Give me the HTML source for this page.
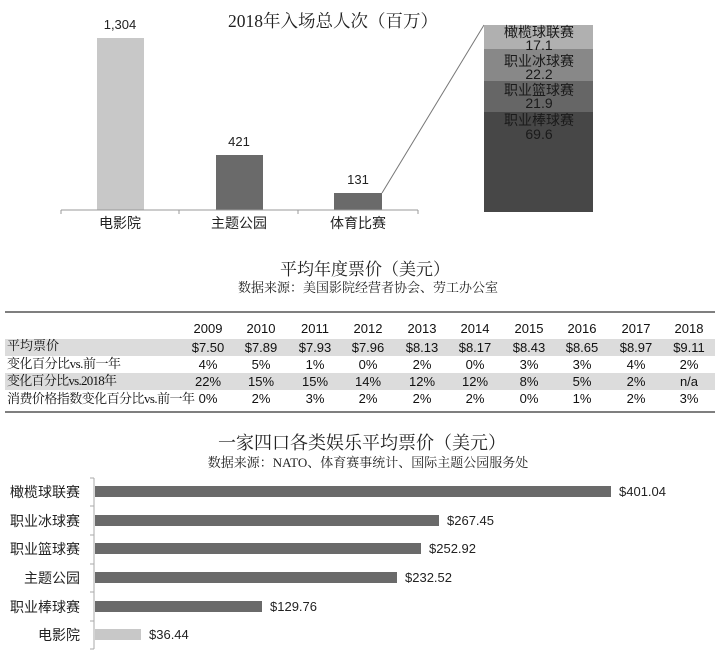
<!DOCTYPE html>
<html><head><meta charset="utf-8"><style>
body{margin:0;background:#fff;}
svg{display:block;font-family:"Liberation Sans","Noto Sans CJK SC",sans-serif;}
.s{font-family:"Liberation Serif","Noto Serif CJK SC",serif;}
</style></head><body>
<svg width="725" height="663" viewBox="0 0 725 663">
<rect width="725" height="663" fill="#fff"/>
<!-- Top chart -->
<text x="333" y="27" class="s" font-size="17.5" text-anchor="middle" fill="#222">2018年入场总人次（百万）</text>
<rect x="97" y="38" width="47" height="172" fill="#c8c8c8"/>
<rect x="216" y="155" width="47" height="55" fill="#6a6a6a"/>
<rect x="334" y="193" width="48" height="17" fill="#6a6a6a"/>
<line x1="61" y1="210" x2="418" y2="210" stroke="#999" stroke-width="1"/>
<g stroke="#999"><line x1="61" y1="210" x2="61" y2="214"/><line x1="179" y1="210" x2="179" y2="214"/><line x1="298" y1="210" x2="298" y2="214"/><line x1="418" y1="210" x2="418" y2="214"/></g>
<g font-size="13" text-anchor="middle" fill="#222">
<text x="120" y="29">1,304</text><text x="239" y="146">421</text><text x="358" y="184">131</text>
<text x="120" y="228" font-size="14">电影院</text><text x="239" y="228" font-size="14">主题公园</text><text x="358" y="228" font-size="14">体育比赛</text>
</g>
<line x1="382" y1="193" x2="484" y2="25" stroke="#777" stroke-width="1"/>
<rect x="484" y="25" width="109" height="24" fill="#b0b0b0"/>
<rect x="484" y="49" width="109" height="32" fill="#888"/>
<rect x="484" y="81" width="109" height="31" fill="#666"/>
<rect x="484" y="112" width="109" height="100" fill="#474747"/>
<g font-size="14" text-anchor="middle" fill="#1a1a1a">
<text x="539" y="37">橄榄球联赛</text><text x="539" y="50">17.1</text>
<text x="539" y="66">职业冰球赛</text><text x="539" y="79">22.2</text>
<text x="539" y="95">职业篮球赛</text><text x="539" y="108">21.9</text>
<text x="539" y="125">职业棒球赛</text><text x="539" y="139">69.6</text>
</g>
<!-- Table -->
<text x="365" y="275" class="s" font-size="17" text-anchor="middle" fill="#222">平均年度票价（美元）</text>
<text x="368" y="292" class="s" font-size="13" text-anchor="middle" fill="#222">数据来源：美国影院经营者协会、劳工办公室</text>
<line x1="5" y1="312" x2="715" y2="312" stroke="#555" stroke-width="1.5"/>
<rect x="5" y="339" width="710" height="17" fill="#dcdcdc"/>
<rect x="5" y="373" width="710" height="17" fill="#dcdcdc"/>
<line x1="5" y1="412" x2="715" y2="412" stroke="#555" stroke-width="1.5"/>
<g font-size="13" fill="#111" text-anchor="middle">
<text x="208" y="333">2009</text><text x="261" y="333">2010</text><text x="315" y="333">2011</text><text x="368" y="333">2012</text><text x="422" y="333">2013</text><text x="475" y="333">2014</text><text x="529" y="333">2015</text><text x="582" y="333">2016</text><text x="636" y="333">2017</text><text x="689" y="333">2018</text>
<text x="208" y="352">$7.50</text><text x="261" y="352">$7.89</text><text x="315" y="352">$7.93</text><text x="368" y="352">$7.96</text><text x="422" y="352">$8.13</text><text x="475" y="352">$8.17</text><text x="529" y="352">$8.43</text><text x="582" y="352">$8.65</text><text x="636" y="352">$8.97</text><text x="689" y="352">$9.11</text>
<text x="208" y="369">4%</text><text x="261" y="369">5%</text><text x="315" y="369">1%</text><text x="368" y="369">0%</text><text x="422" y="369">2%</text><text x="475" y="369">0%</text><text x="529" y="369">3%</text><text x="582" y="369">3%</text><text x="636" y="369">4%</text><text x="689" y="369">2%</text>
<text x="208" y="386">22%</text><text x="261" y="386">15%</text><text x="315" y="386">15%</text><text x="368" y="386">14%</text><text x="422" y="386">12%</text><text x="475" y="386">12%</text><text x="529" y="386">8%</text><text x="582" y="386">5%</text><text x="636" y="386">2%</text><text x="689" y="386">n/a</text>
<text x="208" y="403">0%</text><text x="261" y="403">2%</text><text x="315" y="403">3%</text><text x="368" y="403">2%</text><text x="422" y="403">2%</text><text x="475" y="403">2%</text><text x="529" y="403">0%</text><text x="582" y="403">1%</text><text x="636" y="403">2%</text><text x="689" y="403">3%</text>
</g>
<g font-size="13" fill="#111" class="s">
<text x="7" y="350">平均票价</text>
<text x="7" y="368" textLength="114">变化百分比vs.前一年</text>
<text x="7" y="385" textLength="110">变化百分比vs.2018年</text>
<text x="7" y="403" textLength="188">消费价格指数变化百分比vs.前一年</text>
</g>
<!-- Bottom chart -->
<text x="362" y="449" class="s" font-size="18" text-anchor="middle" fill="#222">一家四口各类娱乐平均票价（美元）</text>
<text x="368" y="467" class="s" font-size="13" text-anchor="middle" fill="#222">数据来源：NATO、体育赛事统计、国际主题公园服务处</text>
<line x1="94" y1="478" x2="94" y2="649" stroke="#aaa"/>
<g stroke="#aaa"><line x1="90" y1="478" x2="94" y2="478"/><line x1="90" y1="506" x2="94" y2="506"/><line x1="90" y1="535" x2="94" y2="535"/><line x1="90" y1="564" x2="94" y2="564"/><line x1="90" y1="592" x2="94" y2="592"/><line x1="90" y1="621" x2="94" y2="621"/><line x1="90" y1="649" x2="94" y2="649"/></g>
<rect x="95" y="486" width="516" height="11" fill="#6a6a6a"/>
<rect x="95" y="515" width="344" height="11" fill="#6a6a6a"/>
<rect x="95" y="543" width="326" height="11" fill="#6a6a6a"/>
<rect x="95" y="572" width="302" height="11" fill="#6a6a6a"/>
<rect x="95" y="601" width="167" height="11" fill="#6a6a6a"/>
<rect x="95" y="629" width="46" height="11" fill="#c8c8c8"/>
<g font-size="13" fill="#222">
<text x="619" y="496">$401.04</text><text x="447" y="525">$267.45</text><text x="429" y="553">$252.92</text><text x="405" y="582">$232.52</text><text x="270" y="611">$129.76</text><text x="149" y="639">$36.44</text>
</g>
<g font-size="14" fill="#222" text-anchor="end">
<text x="80" y="497">橄榄球联赛</text><text x="80" y="526">职业冰球赛</text><text x="80" y="554">职业篮球赛</text><text x="80" y="583">主题公园</text><text x="80" y="612">职业棒球赛</text><text x="80" y="640">电影院</text>
</g>
</svg>
</body></html>
